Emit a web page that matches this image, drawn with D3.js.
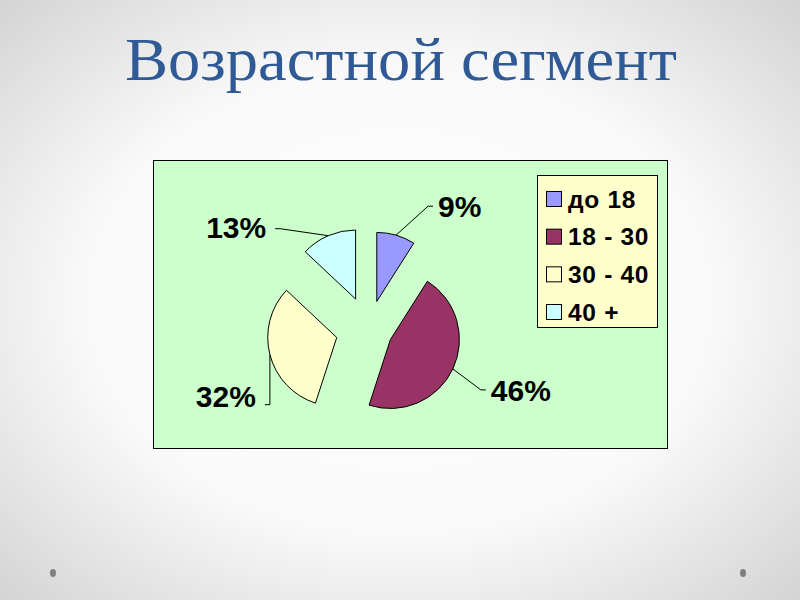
<!DOCTYPE html>
<html>
<head>
<meta charset="utf-8">
<script src="https://cdn.jsdelivr.net/npm/d3@7"></script>
<style>
  body { margin: 0; }
  svg { display: block; }
</style>
</head>
<body>
<div id="chartid"></div>
<script>
"use strict"

// chart data
var categories = ["до 18", "18 - 30", "30 - 40", "40 +"];
var shares = [9, 46, 32, 13];
var sliceColors = ["#9999ff", "#993366", "#ffffcc", "#ccffff"];
var title = "Возрастной сегмент";

// layout
var W = 800, H = 600;
var plot = { x: 153, y: 160, w: 514, h: 288 };
var pieCenter = [368.7, 329.3];
var radius = 69;
var explode = [29, 24, 33, 33];            // per slice, px along mid angle
var leader = [[32, -29], [28, 21], [0, 50], [-48, -7]]; // knee offset from arc mid point
var textLift = [0, 0, -8, -1];

var svg = d3.select("#chartid").append("svg")
  .attr("width", W)
  .attr("height", H);

// slide background
var defs = svg.append("defs");
var grad = defs.append("radialGradient")
  .attr("id", "bg")
  .attr("cx", "50%").attr("cy", "50%").attr("r", "72%");
grad.append("stop").attr("offset", "0%").attr("stop-color", "#ffffff");
grad.append("stop").attr("offset", "55%").attr("stop-color", "#f9f9f9");
grad.append("stop").attr("offset", "100%").attr("stop-color", "#d2d2d2");

svg.append("rect")
  .attr("width", W).attr("height", H)
  .attr("fill", "url(#bg)");

svg.selectAll(".dot")
  .data([53, 743])
  .enter().append("ellipse")
  .attr("class", "dot")
  .attr("cx", function(d) { return d; })
  .attr("cy", 573)
  .attr("rx", 3).attr("ry", 4)
  .attr("fill", "#808080");

svg.append("text")
  .attr("x", 401)
  .attr("y", 80)
  .attr("text-anchor", "middle")
  .attr("font-family", "'Liberation Serif', 'DejaVu Serif', serif")
  .attr("font-size", 62)
  .attr("fill", "#305a96")
  .attr("textLength", 552)
  .attr("lengthAdjust", "spacingAndGlyphs")
  .text(title);

// plot area
svg.append("rect")
  .attr("x", plot.x + 0.5).attr("y", plot.y + 0.5)
  .attr("width", plot.w).attr("height", plot.h)
  .attr("fill", "#ccffcc")
  .attr("stroke", "#000")
  .attr("stroke-width", 1);

var pie = d3.pie()
  .sort(null)
  .value(function(d) { return d; });

var arc = d3.arc()
  .innerRadius(0)
  .outerRadius(radius);

var slices = pie(shares);

function unit(a) { return [Math.sin(a), -Math.cos(a)]; }

var g = svg.append("g")
  .attr("transform", "translate(" + pieCenter[0] + "," + pieCenter[1] + ")");

var sl = g.selectAll(".slice")
  .data(slices)
  .enter().append("g")
  .attr("class", "slice")
  .attr("transform", function(d, i) {
    var u = unit((d.startAngle + d.endAngle) / 2);
    return "translate(" + (u[0] * explode[i]) + "," + (u[1] * explode[i]) + ")";
  });

sl.append("path")
  .attr("d", arc)
  .attr("fill", function(d, i) { return sliceColors[i]; })
  .attr("stroke", "#000")
  .attr("stroke-width", 1)
  .attr("stroke-linejoin", "miter");

// leader lines and labels
sl.each(function(d, i) {
  var u = unit((d.startAngle + d.endAngle) / 2);
  var p0 = [u[0] * radius, u[1] * radius];
  var knee = [p0[0] + leader[i][0], p0[1] + leader[i][1]];
  var right = u[0] > 0;
  var end = [knee[0] + (right ? 5 : -5), knee[1]];
  var node = d3.select(this);

  node.append("polyline")
    .attr("points", [p0, knee, end].map(function(p) { return p.join(","); }).join(" "))
    .attr("fill", "none")
    .attr("stroke", "#000")
    .attr("stroke-width", 1);

  node.append("text")
    .attr("x", end[0] + (right ? 5 : -9))
    .attr("y", end[1] + textLift[i])
    .attr("dy", "0.36em")
    .attr("text-anchor", right ? "start" : "end")
    .attr("font-family", "'Liberation Sans', Arial, sans-serif")
    .attr("font-weight", "bold")
    .attr("font-size", 30)
    .attr("fill", "#000")
    .text(d.data + "%");
});

// legend
var legend = svg.append("g");
legend.append("rect")
  .attr("x", 537.5).attr("y", 175.5)
  .attr("width", 120).attr("height", 152)
  .attr("fill", "#ffffcc")
  .attr("stroke", "#000");

var rowY = d3.scalePoint()
  .domain(categories)
  .range([199, 312]);

var item = legend.selectAll(".item")
  .data(categories)
  .enter().append("g")
  .attr("class", "item")
  .attr("transform", function(d) { return "translate(546," + rowY(d) + ")"; });

item.append("rect")
  .attr("x", 0.5).attr("y", -7.5)
  .attr("width", 15).attr("height", 15)
  .attr("fill", function(d, i) { return sliceColors[i]; })
  .attr("stroke", "#000");

item.append("text")
  .attr("x", 22)
  .attr("dy", "0.36em")
  .attr("font-family", "'Liberation Sans', Arial, sans-serif")
  .attr("font-weight", "bold")
  .attr("font-size", 24.5)
  .attr("letter-spacing", 0.7)
  .attr("fill", "#000")
  .text(function(d) { return d; });
</script>
</body>
</html>
